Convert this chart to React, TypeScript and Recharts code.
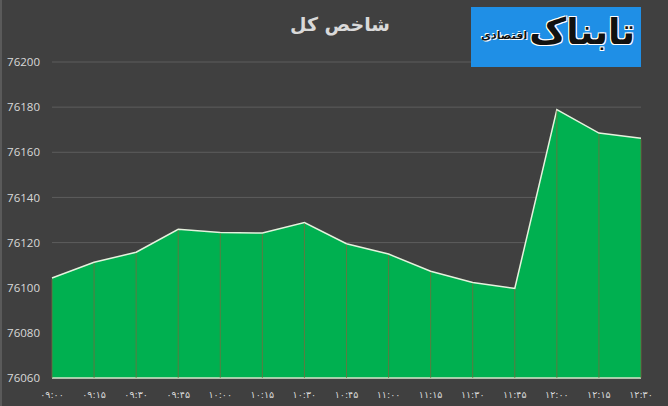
import React from 'react';
import { AreaChart, Area, XAxis, YAxis, CartesianGrid } from 'recharts';

// time labels (Persian digits) and index values
const times = [
  '۰۹:۰۰', '۰۹:۱۵', '۰۹:۳۰', '۰۹:۴۵', '۱۰:۰۰', '۱۰:۱۵', '۱۰:۳۰', '۱۰:۴۵',
  '۱۱:۰۰', '۱۱:۱۵', '۱۱:۳۰', '۱۱:۴۵', '۱۲:۰۰', '۱۲:۱۵', '۱۲:۳۰',
];
const indexValues = [
  76104.3, 76111.3, 76115.7, 76125.9, 76124.5, 76124.2, 76128.9, 76119.5,
  76114.9, 76107.3, 76102.3, 76099.7, 76178.9, 76168.5, 76166.2,
];
const yTicks = [76060, 76080, 76100, 76120, 76140, 76160, 76180, 76200];

const data = times.map((t, i) => ({ time: t, value: indexValues[i] }));

const W = 668;
const H = 406;
const MARGIN = { top: 62, right: 27, bottom: 8, left: 0 };
const X_AXIS_H = 20;
const PLOT_BOTTOM = H - MARGIN.bottom - X_AXIS_H;

// dark separator from each point down to the baseline
const DropLine = (props: any) => {
  const { cx, cy, index } = props;
  if (cx == null || cy == null) return null;
  return (
    <line
      key={`drop-${index}`}
      x1={cx}
      y1={cy + 1}
      x2={cx}
      y2={PLOT_BOTTOM}
      stroke="#7a6a3c"
      strokeOpacity={0.75}
      strokeWidth={1}
    />
  );
};

const App: React.FC = () => {
  return (
    <div
      style={{
        position: 'fixed',
        top: 0,
        left: 0,
        width: W,
        height: H,
        background: '#404040',
        borderLeft: '2px solid #5a5a5a',
        boxSizing: 'border-box',
        overflow: 'hidden',
      }}
    >
      <div style={{ position: 'absolute', top: 0, left: -2 }}>
        <AreaChart width={W} height={H} data={data} margin={MARGIN}>
          <CartesianGrid vertical={false} stroke="#5c5c5c" strokeWidth={1} />
          <XAxis
            dataKey="time"
            height={X_AXIS_H}
            axisLine={{ stroke: '#d6e6cc', strokeWidth: 1.5 }}
            tickLine={false}
            tickSize={0}
            tickMargin={13}
            interval={0}
            tick={{ fill: '#d9d9d9', fontSize: 9.5, fontFamily: 'DejaVu Sans' }}
          />
          <YAxis
            domain={[76060, 76200]}
            ticks={yTicks}
            width={52}
            axisLine={false}
            tickLine={false}
            tickSize={6}
            tickMargin={6}
            interval={0}
            tick={{ fill: '#d9d9d9', fontSize: 11.5, fontFamily: 'Open Sans' }}
          />
          <Area
            type="linear"
            dataKey="value"
            baseValue={76060}
            fill="#00b050"
            fillOpacity={1}
            stroke="#e6f2de"
            strokeWidth={1.5}
            dot={DropLine}
            activeDot={false}
            isAnimationActive={false}
          />
        </AreaChart>
      </div>
      <div
        style={{
          position: 'absolute',
          top: 13,
          left: 0,
          width: W + 8,
          textAlign: 'center',
          color: '#d9d9d9',
          fontFamily: 'DejaVu Sans',
          fontWeight: 'bold',
          fontSize: 19,
          direction: 'rtl',
        }}
      >
        شاخص کل
      </div>
      <div
        style={{
          position: 'absolute',
          left: 469,
          top: 7,
          width: 170,
          height: 60,
          background: '#1f8fe6',
          overflow: 'hidden',
          direction: 'rtl',
          fontFamily: 'DejaVu Sans',
        }}
      >
        <span
          style={{
            position: 'absolute',
            right: 6,
            top: 4,
            fontSize: 36,
            fontWeight: 'bold',
            color: '#111',
            textShadow: '1px 1px 0 #fff, -1px -1px 0 #fff, 1px -1px 0 #fff, -1px 1px 0 #fff',
          }}
        >
          تابناک
        </span>
        <span
          style={{
            position: 'absolute',
            left: 10,
            top: 22,
            fontSize: 11,
            fontWeight: 'bold',
            color: '#111',
            textShadow: '1px 1px 0 #fff, -1px -1px 0 #fff',
          }}
        >
          اقتصادی
        </span>
      </div>
    </div>
  );
};

export default App;
